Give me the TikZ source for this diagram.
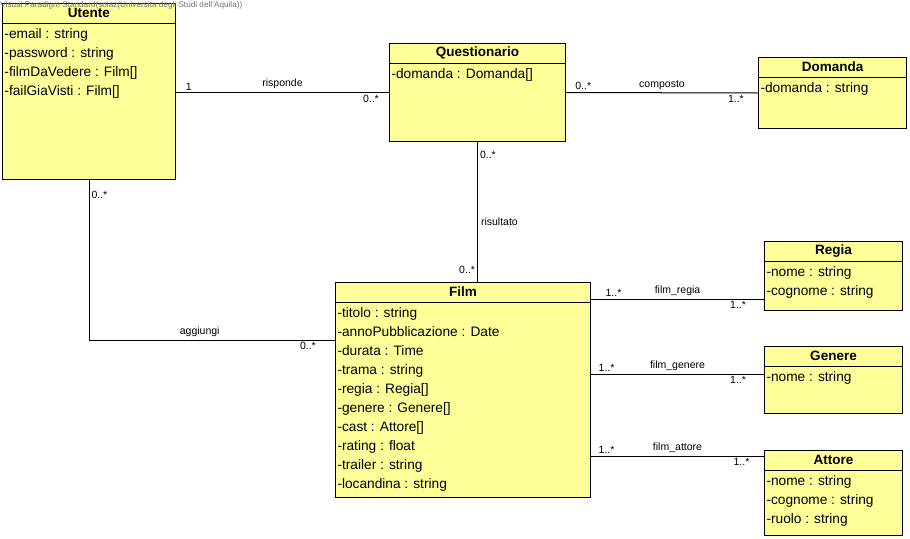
\documentclass[tikz,border=0pt]{standalone}
\usepackage{fontspec}
\setmainfont{Liberation Sans}
\usetikzlibrary{positioning}
\definecolor{vpyellow}{RGB}{255,255,153}

\begin{document}
\begin{tikzpicture}[x=1pt, y=-1pt, line width=1pt,
    cls/.style={draw, fill=vpyellow, anchor=north west, inner sep=0pt},
    ttl/.style={font=\bfseries\fontsize{13.5}{19}\selectfont, minimum height=19pt, inner sep=0pt, anchor=north},
    attr/.style={font=\fontsize{13.7}{19}\selectfont, align=left, anchor=north west, inner xsep=2pt, inner ysep=5.3pt},
    mult/.style={font=\fontsize{10.5}{12}\selectfont, inner sep=2pt},
    lbl/.style={font=\fontsize{10.5}{12}\selectfont, inner sep=3pt}]

        \useasboundingbox (0,0) rectangle (910,538);

        % classi
        \node[cls, minimum width=173pt, minimum height=176pt] (utente) at (2,3) {};
        \node[cls, minimum width=176pt, minimum height=98pt]  (quest)  at (389,43) {};
        \node[cls, minimum width=148pt, minimum height=71pt]  (domanda) at (758,57) {};
        \node[cls, minimum width=255pt, minimum height=215pt] (film)   at (335,282) {};
        \node[cls, minimum width=138pt, minimum height=69pt]  (regia)  at (764,241) {};
        \node[cls, minimum width=138pt, minimum height=67pt]  (genere) at (764,346) {};
        \node[cls, minimum width=138pt, minimum height=85pt]  (attore) at (764,450) {};

        \foreach \c/\t in {utente/Utente, quest/Questionario, domanda/Domanda, film/Film,
                           regia/Regia, genere/Genere, attore/Attore} {
          \node[ttl] (\c T) at (\c.north) {\t};
          \draw (\c T.south -| \c.west) -- (\c T.south -| \c.east);
        }

        % attributi
        \node[attr] (utenteA) at (utenteT.south -| utente.west)
          {-email : string\\-password : string\\-filmDaVedere : Film[]\\-failGiaVisti : Film[]};
        \node[attr] (questA) at (questT.south -| quest.west) {-domanda : Domanda[]};
        \node[attr] (domandaA) at (domandaT.south -| domanda.west) {-domanda : string};
        \node[attr] (filmA) at (filmT.south -| film.west)
          {-titolo : string\\-annoPubblicazione : Date\\-durata : Time\\-trama : string\\
           -regia : Regia[]\\-genere : Genere[]\\-cast : Attore[]\\-rating : float\\
           -trailer : string\\-locandina : string};
        \node[attr] (regiaA) at (regiaT.south -| regia.west) {-nome : string\\-cognome : string};
        \node[attr] (genereA) at (genereT.south -| genere.west) {-nome : string};
        \node[attr] (attoreA) at (attoreT.south -| attore.west)
          {-nome : string\\-cognome : string\\-ruolo : string};

        % associazioni
        \coordinate (yaggiungi) at (0,340);
        \coordinate (yregia) at (0,299);
        \coordinate (ygenere) at (0,374);
        \coordinate (yattore) at (0,456);

        \path (utente.east |- quest.west) edge node[lbl, above] (risponde) {risponde}
              node[mult, pos=.06, above] (m1) {1} node[mult, pos=.915, below] (m2) {0..*} (quest.west);
        \path (quest.east) edge node[lbl, above] (composto) {composto}
              node[mult, pos=.09, above] (m3) {0..*} node[mult, pos=.885, below] (m4) {1..*} (domanda.west);
        \path (quest.south) edge node[lbl, pos=.57, right] (risultato) {risultato}
              node[mult, pos=.09, right] (m5) {0..*} node[mult, pos=.91, left] (m6) {0..*} (quest.south |- film.north);
        \draw (utente.south) |- node[mult, pos=.045, right] (m7) {0..*}
              node[lbl, pos=.725, above] (aggiungi) {aggiungi}
              node[mult, pos=.945, below] (m8) {0..*} (film.west |- yaggiungi);

        \path (film.east |- yregia) edge node[lbl, above] (filmregia) {film\_regia}
              node[mult, pos=.13, above] (m9) {1..*} node[mult, pos=.85, below] (m10) {1..*} (regia.west |- yregia);
        \path (film.east |- ygenere) edge node[lbl, above] (filmgenere) {film\_genere}
              node[mult, pos=.09, above] (m11) {1..*} node[mult, pos=.85, below] (m12) {1..*} (genere.west |- ygenere);
        \path (film.east |- yattore) edge node[lbl, above] (filmattore) {film\_attore}
              node[mult, pos=.09, above] (m13) {1..*} node[mult, pos=.87, below] (m14) {1..*} (attore.west |- yattore);

        \node[anchor=north west, inner sep=0pt, text=black!55, font=\fontsize{8.2}{9}\selectfont] (vpmark) at (0,1)
          {Visual Paradigm Standard(solaz(Universita degli Studi dell'Aquila))};

      \end{tikzpicture}
\end{document}
